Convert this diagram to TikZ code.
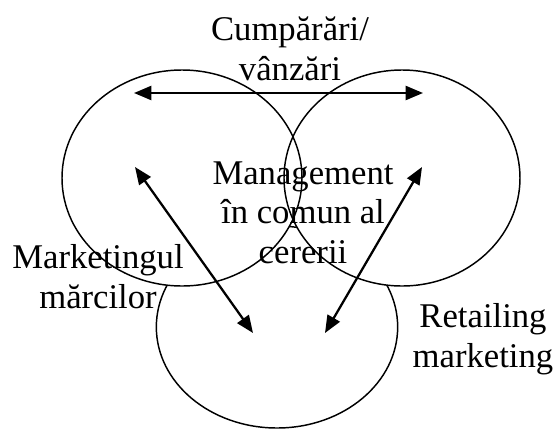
\documentclass[tikz,border=0pt]{standalone}
\usepackage{fontspec}
\setmainfont{Liberation Serif}
\usetikzlibrary{shapes.geometric,arrows.meta}

\begin{document}
\begin{tikzpicture}[x=0.75pt,y=-0.75pt,
  ring/.style={ellipse, draw, line width=1.1pt, inner sep=0pt, outer sep=0pt},
  link/.style={line width=1.7pt,
    {Triangle[length=13pt,width=10.5pt]}-{Triangle[length=13pt,width=10.5pt]}},
  words/.style={font=\fontsize{26}{29.5}\selectfont, align=center, inner sep=0pt}]
\useasboundingbox (0,0) rectangle (554,429);

% lower ring, partly hidden behind the two upper rings
\node[ring, minimum width=181pt, minimum height=151.5pt] (B) at (277,327) {};

% white fill of the upper rings, then their outlines
\fill[white] (182,178) ellipse [x radius=90pt, y radius=81pt];
\fill[white] (402,178) ellipse [x radius=88.5pt, y radius=81pt];
\node[ring, minimum width=180pt, minimum height=162pt] (L) at (182,178) {};
\node[ring, minimum width=177pt, minimum height=162pt] (R) at (402,178) {};

% arrow end points
\coordinate (h1) at (134,93);
\coordinate (h2) at (423,93);
\coordinate (a1) at (135,167);
\coordinate (a2) at (253,333);
\coordinate (b1) at (422,167);
\coordinate (b2) at (325,333);

\draw[link] (h1) -- (h2);
\draw[link] (a1) -- (a2);
\draw[link] (b1) -- (b2);

% texts (base anchor sits on the last line)
\node[words, anchor=base] (top) at (290,80) {Cumpărări/\\vânzări};
\node[words, anchor=base] (mid) at (303,263) {Management\\în comun al\\cererii};
\node[words, anchor=base] (lft) at (98,308) {Marketingul\\mărcilor};
\node[words, anchor=base] (rgt) at (483,367) {Retailing\\marketing};
\end{tikzpicture}
\end{document}
